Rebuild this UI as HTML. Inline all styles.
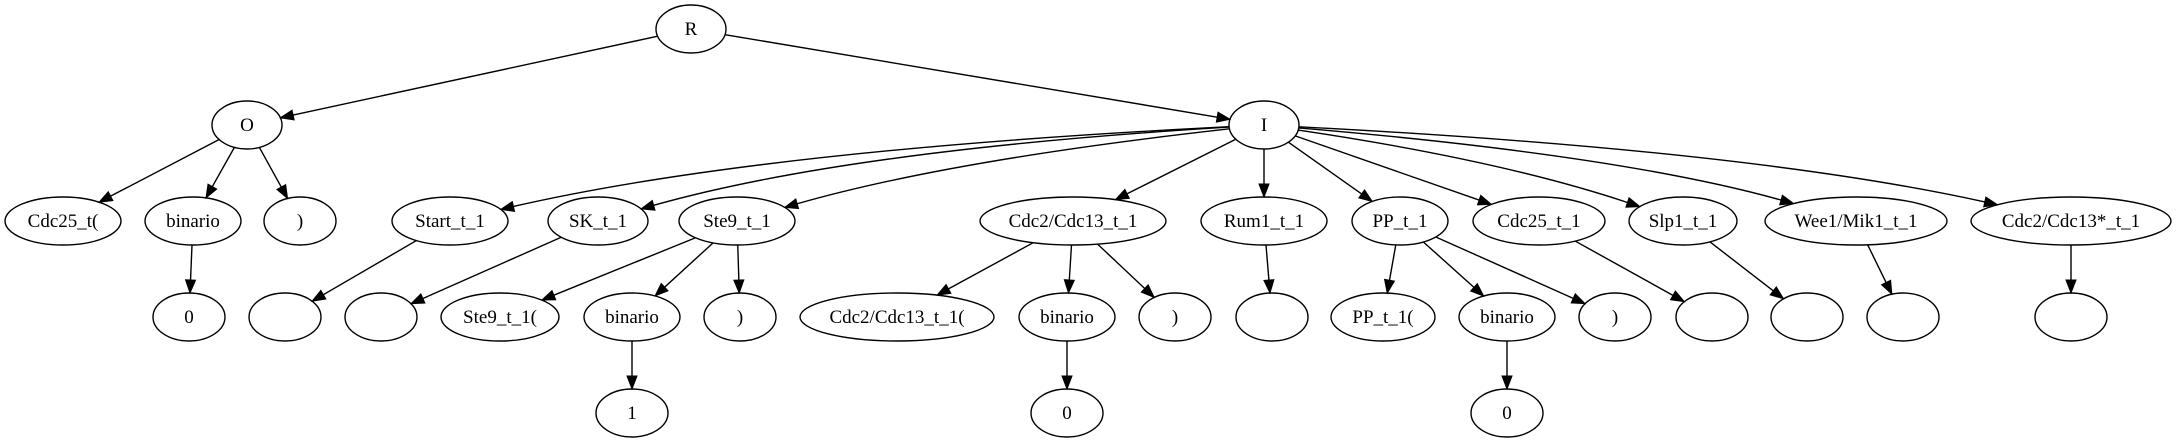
<!DOCTYPE html>
<html><head><meta charset="utf-8"><style>
html,body{margin:0;padding:0;background:#fff;}
svg{display:block;}
text{font-family:"Liberation Serif",serif;font-size:19px;}
</style></head><body>
<svg id="s" width="2176" height="443" viewBox="0 0 2176 443" xmlns="http://www.w3.org/2000/svg"></svg>
<script>
var N={
R:[691,29,35,"R"],O:[247,125,35,"O"],I:[1264,125,35,"I"],
a1:[63,221,58,"Cdc25_t("],a2:[193,221,48,"binario"],a3:[300,221,36,")"],
b1:[450,221,58,"Start_t_1"],b2:[598,221,50,"SK_t_1"],b3:[737,221,58,"Ste9_t_1"],
b4:[1073,221,93,"Cdc2/Cdc13_t_1"],b5:[1264,221,63,"Rum1_t_1"],b6:[1400,221,48,"PP_t_1"],
b7:[1539,221,66,"Cdc25_t_1"],b8:[1683,221,54,"Slp1_t_1"],b9:[1856,221,91,"Wee1/Mik1_t_1"],
b10:[2071,221,100,"Cdc2/Cdc13*_t_1"],
c1:[189,317,36,"0"],c2:[285,317,36,""],c3:[381,317,36,""],c4:[500,317,59,"Ste9_t_1("],
c5:[632,317,48,"binario"],c6:[740,317,36,")"],c7:[897,317,97,"Cdc2/Cdc13_t_1("],
c8:[1067,317,48,"binario"],c9:[1175,317,36,")"],c10:[1272,317,36,""],
c11:[1383,317,52,"PP_t_1("],c12:[1507,317,48,"binario"],c13:[1615,317,36,")"],
c14:[1712,317,36,""],c15:[1807,317,36,""],c16:[1903,317,36,""],c17:[2071,317,36,""],
d1:[632,413,36,"1"],d2:[1067,413,36,"0"],d3:[1507,413,36,"0"]};
var RY=24;
var E=[["R","O"],["R","I"],["O","a1"],["O","a2"],["O","a3"],["a2","c1"],
["I","b1",[760,150]],["I","b2",[850,150]],["I","b3",[950,160]],["I","b4"],["I","b5"],["I","b6"],
["I","b7"],["I","b8",[1500,160]],["I","b9",[1620,155]],["I","b10",[1750,150]],
["b1","c2"],["b2","c3"],["b3","c4"],["b3","c5"],["b3","c6"],["b4","c7"],["b4","c8"],["b4","c9"],
["b5","c10"],["b6","c11"],["b6","c12"],["b6","c13"],["b7","c14"],["b8","c15"],["b9","c16"],["b10","c17"],
["c5","d1"],["c8","d2"],["c12","d3"]];
function bd(n,tx,ty){var dx=tx-n[0],dy=ty-n[1];var t=1/Math.sqrt(dx*dx/(n[2]*n[2])+dy*dy/(RY*RY));return [n[0]+dx*t,n[1]+dy*t];}
var h="";
E.forEach(function(e){var a=N[e[0]],b=N[e[1]],c=e[2];
var p=c||[b[0],b[1]],q=c||[a[0],a[1]];
var s=bd(a,p[0],p[1]),t=bd(b,q[0],q[1]);
var dx=t[0]-(c?c[0]:s[0]),dy=t[1]-(c?c[1]:s[1]);var L=Math.sqrt(dx*dx+dy*dy);var ux=dx/L,uy=dy/L;
var L2=13,W=5;var bx=t[0]-ux*L2,by=t[1]-uy*L2;
if(c)h+='<path d="M'+s[0]+','+s[1]+' Q'+c[0]+','+c[1]+' '+bx+','+by+'" fill="none" stroke="#000" stroke-width="1.4"/>';
else h+='<line x1="'+s[0]+'" y1="'+s[1]+'" x2="'+bx+'" y2="'+by+'" stroke="#000" stroke-width="1.4"/>';
h+='<polygon points="'+t[0]+','+t[1]+' '+(bx-uy*W)+','+(by+ux*W)+' '+(bx+uy*W)+','+(by-ux*W)+'" fill="#000" stroke="#000"/>';});
for(var k in N){var n=N[k];h+='<ellipse cx="'+n[0]+'" cy="'+n[1]+'" rx="'+n[2]+'" ry="'+RY+'" fill="none" stroke="#000" stroke-width="1.4"/>';
if(n[3])h+='<text x="'+n[0]+'" y="'+(n[1]+6)+'" text-anchor="middle">'+n[3]+'</text>';}
document.getElementById("s").innerHTML=h;
</script>
</body></html>
